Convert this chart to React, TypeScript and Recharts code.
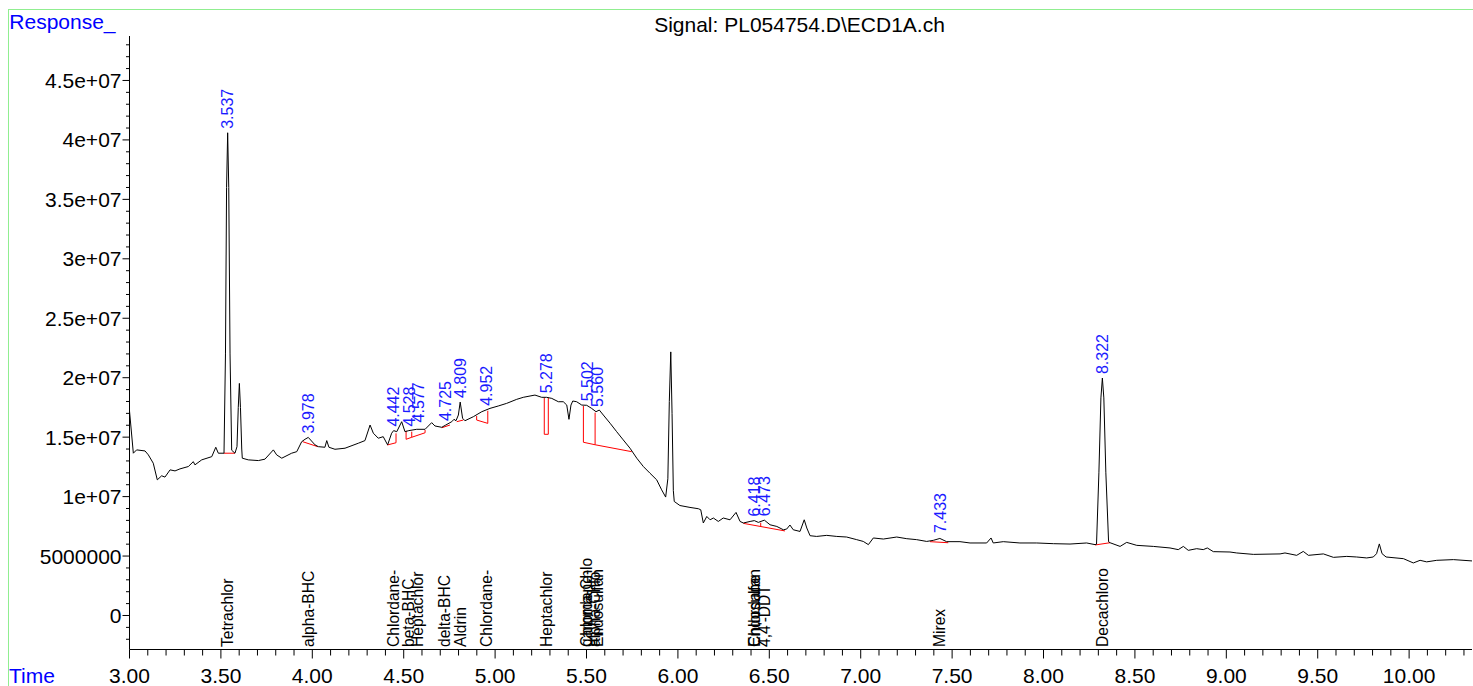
import React from 'react';
import { ComposedChart, Line, XAxis, YAxis, Scatter } from 'recharts';

const FONT = "'Liberation Sans', Arial, Helvetica, sans-serif";
const X_DOMAIN: [number, number] = [3, 10.344];
const Y_DOMAIN: [number, number] = [-2.86e6, 48.74e6];

// Signal trace: [retention time (min), response]
const trace: [number, number][] = [
  [3.000, 17.20e6], [3.021, 13.65e6], [3.039, 13.93e6], [3.085, 13.84e6], [3.103, 13.51e6],
  [3.130, 12.81e6], [3.152, 11.41e6], [3.176, 11.75e6], [3.194, 11.64e6], [3.222, 12.25e6],
  [3.249, 12.16e6], [3.276, 12.33e6], [3.322, 12.53e6], [3.349, 12.94e6], [3.358, 12.67e6],
  [3.395, 13.09e6], [3.450, 13.36e6], [3.472, 14.15e6], [3.486, 13.65e6], [3.517, 13.65e6],
  [3.525, 22.0e6], [3.531, 36.0e6], [3.537, 40.6e6], [3.543, 36.0e6], [3.550, 22.0e6],
  [3.559, 13.9e6], [3.577, 13.65e6], [3.588, 14.2e6], [3.595, 17.5e6], [3.601, 19.52e6],
  [3.607, 17.5e6], [3.614, 14.0e6], [3.617, 13.23e6], [3.650, 13.09e6], [3.705, 13.03e6],
  [3.741, 13.15e6], [3.787, 13.93e6], [3.805, 13.51e6], [3.833, 13.23e6], [3.887, 13.65e6],
  [3.915, 13.78e6], [3.942, 14.62e6], [3.960, 14.82e6], [3.978, 14.98e6], [4.015, 14.35e6],
  [4.033, 14.20e6], [4.069, 14.15e6], [4.079, 14.71e6], [4.091, 14.15e6], [4.124, 13.98e6],
  [4.179, 14.07e6], [4.252, 14.49e6], [4.288, 14.71e6], [4.316, 16.02e6], [4.334, 15.33e6],
  [4.361, 14.91e6], [4.388, 15.04e6], [4.412, 14.35e6], [4.434, 15.33e6], [4.445, 15.55e6],
  [4.462, 15.46e6], [4.489, 16.30e6], [4.507, 15.46e6], [4.528, 15.55e6], [4.571, 15.66e6],
  [4.617, 15.66e6], [4.653, 16.22e6], [4.671, 15.94e6], [4.708, 15.83e6], [4.730, 16.02e6],
  [4.763, 16.30e6], [4.775, 16.50e6], [4.786, 16.38e6], [4.799, 16.86e6], [4.809, 17.95e6],
  [4.822, 16.59e6], [4.835, 16.38e6], [4.881, 16.72e6], [4.927, 17.14e6], [4.972, 17.42e6],
  [5.017, 17.62e6], [5.063, 17.84e6], [5.118, 18.18e6], [5.154, 18.35e6], [5.191, 18.46e6],
  [5.218, 18.54e6], [5.255, 18.35e6], [5.282, 18.35e6], [5.310, 18.26e6], [5.346, 17.98e6],
  [5.373, 17.98e6], [5.392, 17.70e6], [5.404, 16.50e6], [5.415, 17.70e6], [5.425, 18.04e6],
  [5.446, 17.98e6], [5.474, 17.70e6], [5.501, 17.68e6], [5.528, 17.42e6], [5.552, 17.14e6],
  [5.570, 17.28e6], [5.592, 16.86e6], [5.629, 16.17e6], [5.665, 15.46e6], [5.701, 14.77e6],
  [5.738, 14.07e6], [5.775, 13.23e6], [5.811, 12.53e6], [5.847, 11.97e6], [5.884, 11.41e6],
  [5.911, 10.57e6], [5.933, 9.96e6], [5.945, 11.5e6], [5.953, 18.0e6], [5.961, 22.17e6],
  [5.968, 17.0e6], [5.975, 10.5e6], [5.980, 9.59e6], [6.011, 9.25e6], [6.066, 9.09e6],
  [6.112, 8.98e6], [6.125, 8.89e6], [6.139, 7.78e6], [6.158, 8.33e6], [6.176, 8.05e6],
  [6.194, 8.20e6], [6.221, 7.91e6], [6.248, 8.20e6], [6.285, 8.05e6], [6.318, 8.67e6],
  [6.340, 7.91e6], [6.358, 7.78e6], [6.395, 7.91e6], [6.418, 7.98e6], [6.440, 7.83e6],
  [6.473, 8.02e6], [6.504, 7.63e6], [6.541, 7.49e6], [6.577, 7.21e6], [6.595, 7.27e6],
  [6.613, 7.61e6], [6.631, 7.21e6], [6.668, 7.07e6], [6.691, 8.05e6], [6.705, 7.36e6],
  [6.723, 6.71e6], [6.759, 6.65e6], [6.814, 6.74e6], [6.869, 6.65e6], [6.923, 6.60e6],
  [6.978, 6.38e6], [7.014, 6.23e6], [7.042, 5.96e6], [7.069, 6.52e6], [7.124, 6.43e6],
  [7.197, 6.60e6], [7.252, 6.46e6], [7.306, 6.38e6], [7.361, 6.23e6], [7.397, 6.32e6],
  [7.433, 6.48e6], [7.470, 6.21e6], [7.543, 6.21e6], [7.598, 6.10e6], [7.689, 6.10e6],
  [7.713, 6.52e6], [7.725, 6.10e6], [7.780, 6.21e6], [7.871, 6.10e6], [7.963, 6.10e6],
  [8.054, 6.04e6], [8.145, 6.01e6], [8.236, 6.10e6], [8.282, 5.96e6], [8.290, 6.0e6],
  [8.303, 12.0e6], [8.314, 18.3e6], [8.322, 19.97e6], [8.330, 18.3e6], [8.341, 12.0e6],
  [8.356, 6.2e6], [8.364, 6.12e6], [8.419, 5.81e6], [8.455, 6.15e6], [8.510, 5.90e6],
  [8.601, 5.81e6], [8.692, 5.68e6], [8.737, 5.54e6], [8.765, 5.81e6], [8.792, 5.48e6],
  [8.838, 5.62e6], [8.874, 5.54e6], [8.896, 5.68e6], [8.929, 5.37e6], [9.020, 5.34e6],
  [9.057, 5.26e6], [9.148, 5.14e6], [9.294, 5.18e6], [9.321, 5.26e6], [9.385, 5.06e6],
  [9.421, 5.39e6], [9.449, 5.06e6], [9.531, 5.18e6], [9.586, 4.89e6], [9.659, 4.97e6],
  [9.713, 4.92e6], [9.768, 4.84e6], [9.804, 4.92e6], [9.822, 5.20e6], [9.837, 6.02e6],
  [9.852, 5.20e6], [9.874, 4.92e6], [9.969, 4.78e6], [10.023, 4.42e6], [10.060, 4.64e6],
  [10.096, 4.51e6], [10.151, 4.64e6], [10.242, 4.70e6], [10.344, 4.59e6],
];

// Integration baselines (red)
const baselineSegments: [number, number][][] = [
  [[3.517, 13.65e6], [3.577, 13.65e6]],
  [[3.947, 14.62e6], [4.030, 14.20e6]],
  [[4.410, 14.34e6], [4.458, 14.53e6], [4.458, 15.32e6]],
  [[4.513, 15.54e6], [4.513, 14.82e6], [4.544, 14.99e6], [4.617, 15.37e6], [4.617, 15.60e6]],
  [[4.544, 15.46e6], [4.544, 14.99e6]],
  [[4.708, 15.79e6], [4.753, 16.02e6]],
  [[4.790, 16.30e6], [4.826, 16.44e6]],
  [[4.899, 16.78e6], [4.899, 16.44e6], [4.960, 16.16e6], [4.960, 17.22e6]],
  [[5.269, 18.32e6], [5.269, 15.24e6], [5.291, 15.24e6], [5.291, 18.32e6]],
  [[5.483, 17.62e6], [5.483, 14.57e6], [5.547, 14.36e6], [5.747, 13.78e6]],
  [[5.547, 17.06e6], [5.547, 14.36e6]],
  [[6.358, 7.75e6], [6.586, 7.11e6]],
  [[6.453, 7.80e6], [6.453, 7.48e6]],
  [[7.379, 6.21e6], [7.479, 6.12e6]],
  [[8.282, 5.93e6], [8.364, 6.12e6]],
];

// Peak retention-time labels (blue)
const peakTimes = [3.537, 3.978, 4.442, 4.528, 4.577, 4.725, 4.809, 4.952, 5.278, 5.502, 5.560, 6.418, 6.473, 7.433, 8.322];
const peakApex = [40.6e6, 14.98e6, 15.55e6, 15.55e6, 15.9e6, 16.02e6, 17.95e6, 17.3e6, 18.35e6, 17.68e6, 17.2e6, 7.98e6, 8.02e6, 6.6e6, 19.97e6];
const peakLabels = ['3.537', '3.978', '4.442', '4.528', '4.577', '4.725', '4.809', '4.952', '5.278', '5.502', '5.560', '6.418', '6.473', '7.433', '8.322'];

// Compound names along the bottom
const compoundTimes = [3.537, 3.978, 4.442, 4.528, 4.577, 4.725, 4.809, 4.952, 5.278, 5.502, 5.502, 5.545, 5.560, 6.418, 6.418, 6.473, 7.433, 8.322];
const compoundNames = ['Tetrachlor', 'alpha-BHC', 'Chlordane-', 'beta-BHC', 'Heptachlor', 'delta-BHC', 'Aldrin', 'Chlordane-', 'Heptachlor', 'Chlordane-', 'gamma-Chlo', 'alpha-Chlo', 'Endosulfan', 'Endosulfan', 'Chlordane', "4,4'-DDT", 'Mirex', 'Decachloro'];

const xMinorTicks = [3.0, 3.1, 3.2, 3.3, 3.4, 3.5, 3.6, 3.7, 3.8, 3.9, 4.0, 4.1, 4.2, 4.3, 4.4, 4.5, 4.6, 4.7, 4.8, 4.9,
  5.0, 5.1, 5.2, 5.3, 5.4, 5.5, 5.6, 5.7, 5.8, 5.9, 6.0, 6.1, 6.2, 6.3, 6.4, 6.5, 6.6, 6.7, 6.8, 6.9,
  7.0, 7.1, 7.2, 7.3, 7.4, 7.5, 7.6, 7.7, 7.8, 7.9, 8.0, 8.1, 8.2, 8.3, 8.4, 8.5, 8.6, 8.7, 8.8, 8.9,
  9.0, 9.1, 9.2, 9.3, 9.4, 9.5, 9.6, 9.7, 9.8, 9.9, 10.0, 10.1, 10.2, 10.3];
const xMajorTicks = [3.0, 3.5, 4.0, 4.5, 5.0, 5.5, 6.0, 6.5, 7.0, 7.5, 8.0, 8.5, 9.0, 9.5, 10.0];
const xMajorLabels = ['3.00', '3.50', '4.00', '4.50', '5.00', '5.50', '6.00', '6.50', '7.00', '7.50', '8.00', '8.50', '9.00', '9.50', '10.00'];

const yMinorTicks = [-2e6, -1e6, 0, 1e6, 2e6, 3e6, 4e6, 5e6, 6e6, 7e6, 8e6, 9e6, 10e6, 11e6, 12e6, 13e6, 14e6, 15e6,
  16e6, 17e6, 18e6, 19e6, 20e6, 21e6, 22e6, 23e6, 24e6, 25e6, 26e6, 27e6, 28e6, 29e6, 30e6, 31e6, 32e6, 33e6,
  34e6, 35e6, 36e6, 37e6, 38e6, 39e6, 40e6, 41e6, 42e6, 43e6, 44e6, 45e6, 46e6, 47e6, 48e6];
const yMajorTicks = [0, 5e6, 10e6, 15e6, 20e6, 25e6, 30e6, 35e6, 40e6, 45e6];
const yMajorLabels = ['0', '5000000', '1e+07', '1.5e+07', '2e+07', '2.5e+07', '3e+07', '3.5e+07', '4e+07', '4.5e+07'];

const traceData = trace.map(([t, v]) => ({ t, v }));
const baselineData = baselineSegments.flatMap((seg) => [
  ...seg.map(([t, v]) => ({ t, v: v as number | null })),
  { t: seg[seg.length - 1][0], v: null },
]);
const peakData = peakTimes.map((t, i) => ({ t, v: peakApex[i], label: peakLabels[i] }));
const compoundData = compoundTimes.map((t, i) => ({ t, v: Y_DOMAIN[0], name: compoundNames[i] }));

const findIdx = (arr: number[], v: number) => arr.findIndex((m) => Math.abs(m - v) < 1e-6);

const renderXTick = (props: any) => {
  const { x, y, payload } = props;
  const idx = findIdx(xMajorTicks, payload.value);
  const major = idx >= 0;
  return (
    <g>
      <line x1={x} x2={x} y1={y} y2={y + (major ? 9 : 6)} stroke="#000" strokeWidth={1} />
      {major && (
        <text x={x} y={y + 33} textAnchor="middle" fontSize={21} fill="#000" fontFamily={FONT}>
          {xMajorLabels[idx]}
        </text>
      )}
    </g>
  );
};

const renderYTick = (props: any) => {
  const { x, y, payload } = props;
  const idx = findIdx(yMajorTicks, payload.value);
  const major = idx >= 0;
  return (
    <g>
      <line x1={x} x2={x - (major ? 7 : 3.5)} y1={y} y2={y} stroke="#000" strokeWidth={1} />
      {major && (
        <text x={x - 8} y={y} dy="0.36em" textAnchor="end" fontSize={21} fill="#000" fontFamily={FONT}>
          {yMajorLabels[idx]}
        </text>
      )}
    </g>
  );
};

const renderPeakLabel = (p: any) => {
  const x = p.cx;
  const y = p.cy - 4;
  return (
    <text x={x} y={y} dy="0.36em" transform={`rotate(-90 ${x} ${y})`} textAnchor="start"
      fontSize={16} fill="#1a1aff" fontFamily={FONT}>
      {p.payload.label}
    </text>
  );
};

const renderCompoundLabel = (p: any) => {
  const x = p.cx;
  const y = p.cy - 2.5;
  return (
    <text x={x} y={y} dy="0.36em" transform={`rotate(-90 ${x} ${y})`} textAnchor="start"
      fontSize={15.6} fill="#000" fontFamily={FONT}>
      {p.payload.name}
    </text>
  );
};

export default function App() {
  return (
    <div style={{ position: 'fixed', left: 0, top: 0, width: 1473, height: 686, overflow: 'hidden', background: '#fff' }}>
      <div style={{ position: 'absolute', left: 8, top: 8, width: 1465, height: 678, fontFamily: FONT }}>
        <ComposedChart width={1465} height={678} margin={{ top: 28, right: 1, bottom: 0, left: 0 }}>
          <XAxis type="number" dataKey="t" domain={X_DOMAIN} allowDataOverflow ticks={xMinorTicks}
            interval={0} tick={renderXTick} tickSize={0} tickMargin={0} tickLine={false}
            axisLine={{ stroke: '#000' }} height={36.5} />
          <YAxis type="number" domain={Y_DOMAIN} allowDataOverflow ticks={yMinorTicks} interval={0}
            tick={renderYTick} tickSize={0} tickMargin={0} tickLine={false}
            axisLine={{ stroke: '#000' }} width={121.5} />
          <Line data={baselineData} dataKey="v" type="linear" stroke="#ff0000" strokeWidth={1}
            dot={false} connectNulls={false} isAnimationActive={false} />
          <Line data={traceData} dataKey="v" type="linear" stroke="#000" strokeWidth={1}
            dot={false} isAnimationActive={false} />
          <Scatter data={peakData} dataKey="v" shape={renderPeakLabel} isAnimationActive={false} />
          <Scatter data={compoundData} dataKey="v" shape={renderCompoundLabel} isAnimationActive={false} />
        </ComposedChart>
        <svg width={1465} height={678} style={{ position: 'absolute', left: 0, top: 0, pointerEvents: 'none' }}>
          <line x1={0} y1={1.5} x2={1465} y2={1.5} stroke="#90ee90" strokeWidth={1} />
          <line x1={0.5} y1={1} x2={0.5} y2={678} stroke="#90ee90" strokeWidth={1} />
          <text x={1.3} y={21} fontSize={21} fill="#0000ff" fontFamily={FONT}>Response_</text>
          <text x={1} y={675} fontSize={21} fill="#0000ff" fontFamily={FONT}>Time</text>
          <text x={791.5} y={24} textAnchor="middle" fontSize={21} fill="#000" fontFamily={FONT}>
            {'Signal: PL054754.D\\ECD1A.ch'}
          </text>
        </svg>
      </div>
    </div>
  );
}
